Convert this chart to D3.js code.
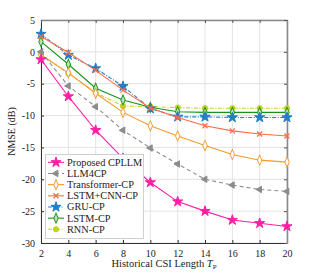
<!DOCTYPE html>
<html><head><meta charset="utf-8">
<script src="https://cdn.jsdelivr.net/npm/d3@7"></script>
<style>body{margin:0;background:#fff}svg{display:block}</style>
</head><body>
<script>
const xs = [2,4,6,8,10,12,14,16,18,20];
const cpllm = [-1.2,-7.0,-12.3,-16.7,-20.5,-23.5,-25.0,-26.4,-26.9,-27.4];
const llm4cp = [0.0,-5.35,-8.6,-12.3,-15.1,-17.6,-20.0,-20.9,-21.6,-21.9];
const transformer = [-0.5,-3.3,-6.5,-9.5,-11.6,-13.2,-14.7,-16.1,-17.0,-17.3];
const lstmcnn = [2.4,-0.1,-2.9,-6.0,-8.8,-10.3,-11.6,-12.4,-12.9,-13.2];
const gru = [2.8,-0.5,-2.6,-5.4,-8.9,-10.2,-10.2,-10.3,-10.3,-10.3];
const lstm = [1.6,-1.95,-5.7,-7.55,-8.7,-9.4,-9.5,-9.5,-9.5,-9.5];
const rnn = [-0.4,-3.4,-6.4,-8.5,-8.6,-8.75,-8.85,-8.85,-8.85,-8.85];
const seriesNames = ["Proposed CPLLM","LLM4CP","Transformer-CP","LSTM+CNN-CP","GRU-CP","LSTM-CP","RNN-CP"];
const xTicks = [2,4,6,8,10,12,14,16,18,20];
const yTicks = [-30,-25,-20,-15,-10,-5,0,5];

const series = [
  {name:seriesNames[0], v:cpllm, color:"#ff1fa5", dash:null, sym:"star", fill:"#ff1fa5", size:32},
  {name:seriesNames[1], v:llm4cp, color:"#8c8c8c", dash:"4,3", sym:"tri", fill:"#8c8c8c", size:18},
  {name:seriesNames[2], v:transformer, color:"#f29a2e", dash:null, sym:"diamond", fill:"#fff", size:24},
  {name:seriesNames[3], v:lstmcnn, color:"#fb6e45", dash:null, sym:"x", fill:"none", size:18},
  {name:seriesNames[4], v:gru, color:"#1f7fc8", dash:"4,1.5,1,1.5", sym:"star", fill:"#1f7fc8", size:32},
  {name:seriesNames[5], v:lstm, color:"#17931c", dash:null, sym:"diamond", fill:"#b9e0b0", size:24},
  {name:seriesNames[6], v:rnn, color:"#c3d31f", dash:"4,1.5,1,1.5", sym:"circle", fill:"#c3d31f", size:22},
];

const W=317,H=273;
const svg=d3.select("body").append("svg").attr("width",W).attr("height",H)
  .style("font-family","'Liberation Serif','DejaVu Serif',serif");
const L=41,R=287,T=20,B=243;
const x=d3.scaleLinear().domain([2,20]).range([L,R]);
const y=d3.scaleLinear().domain([-30,5]).range([B,T]);

// grid
const g=svg.append("g");
g.selectAll(".gx").data(xTicks).join("line").attr("x1",d=>x(d)).attr("x2",d=>x(d)).attr("y1",T).attr("y2",B).attr("stroke","#e3e3e3").attr("stroke-width",1);
g.selectAll(".gy").data(yTicks).join("line").attr("y1",d=>y(d)).attr("y2",d=>y(d)).attr("x1",L).attr("x2",R).attr("stroke","#e3e3e3").attr("stroke-width",1);

// axes
const ax=svg.append("g").attr("transform",`translate(0,${B})`).call(d3.axisBottom(x).tickValues(xTicks).tickSizeInner(-3).tickSizeOuter(0).tickPadding(7));
const ay=svg.append("g").attr("transform",`translate(${L},0)`).call(d3.axisLeft(y).tickValues(yTicks).tickSizeInner(-3).tickSizeOuter(0).tickPadding(6));
const axt=svg.append("g").attr("transform",`translate(0,${T})`).call(d3.axisTop(x).tickValues(xTicks).tickSizeInner(-3).tickSizeOuter(0).tickFormat(""));
const ayr=svg.append("g").attr("transform",`translate(${R},0)`).call(d3.axisRight(y).tickValues(yTicks).tickSizeInner(-3).tickSizeOuter(0).tickFormat(""));
[ax,ay].forEach(a=>{a.select(".domain").attr("stroke","#333").attr("stroke-width",1);a.selectAll(".tick line").attr("stroke","#333");a.selectAll("text").attr("font-size",10).attr("fill","#222").style("font-family","'Liberation Serif',serif");});
[axt,ayr].forEach(a=>{a.select(".domain").attr("stroke","#8a8a8a").attr("stroke-width",1.6);a.selectAll(".tick line").attr("stroke","#555");});
ay.selectAll("text").text(d=>d<0?"-"+Math.abs(d):d);

function symPath(s,size){
  if(s==="star") return d3.symbol(d3.symbolStar,size)();
  if(s==="tri") return d3.symbol(d3.symbolTriangle,size)();
  if(s==="diamond") return d3.symbol(d3.symbolDiamond,size)();
  if(s==="x") return d3.symbol(d3.symbolX,size)();
  return d3.symbol(d3.symbolCircle,size)();
}
function drawMarker(sel,s,cx,cy){
  const p=sel.append("path").attr("d",symPath(s.sym,s.size)).attr("stroke",s.color).attr("stroke-width",s.sym==="x"?1.3:1).attr("fill",s.fill);
  let tr=`translate(${cx},${cy})`;
  if(s.sym==="tri") tr+=" rotate(-90)";
  if(s.sym==="diamond") tr+=" scale(0.85,1.1)";
  p.attr("transform",tr);
}

const line=d3.line().x((d,i)=>x(xs[i])).y(d=>y(d));
const plot=svg.append("g");
series.slice().reverse().forEach(s=>{
  plot.append("path").datum(s.v).attr("d",line).attr("fill","none").attr("stroke",s.color).attr("stroke-width",1.1).attr("stroke-dasharray",s.dash);
  s.v.forEach((v,i)=>drawMarker(plot,s,x(xs[i]),y(v)));
});

// legend
const lg=svg.append("g");
lg.append("rect").attr("x",45.5).attr("y",154.5).attr("width",98).attr("height",84).attr("fill","#fff").attr("stroke","#cfcfcf").attr("stroke-width",1);
series.forEach((s,i)=>{
  const yy=162.3+i*11.17;
  lg.append("line").attr("x1",48).attr("x2",64).attr("y1",yy).attr("y2",yy).attr("stroke",s.color).attr("stroke-width",1.1).attr("stroke-dasharray",s.dash);
  drawMarker(lg,s,56,yy);
  lg.append("text").attr("x",67).attr("y",yy+3.5).attr("font-size",10.3).attr("fill","#222").text(s.name);
});

// labels
const xl=svg.append("text").attr("x",164).attr("y",267).attr("text-anchor","middle").attr("font-size",10.5).attr("fill","#222");
xl.append("tspan").text("Historical CSI Length ");
xl.append("tspan").attr("font-style","italic").text("T");
xl.append("tspan").attr("font-size",7).attr("dy",2).text("P");
svg.append("text").attr("transform",`translate(15,${(T+B)/2}) rotate(-90)`).attr("text-anchor","middle").attr("font-size",10).attr("fill","#222").text("NMSE (dB)");
</script>
</body></html>
